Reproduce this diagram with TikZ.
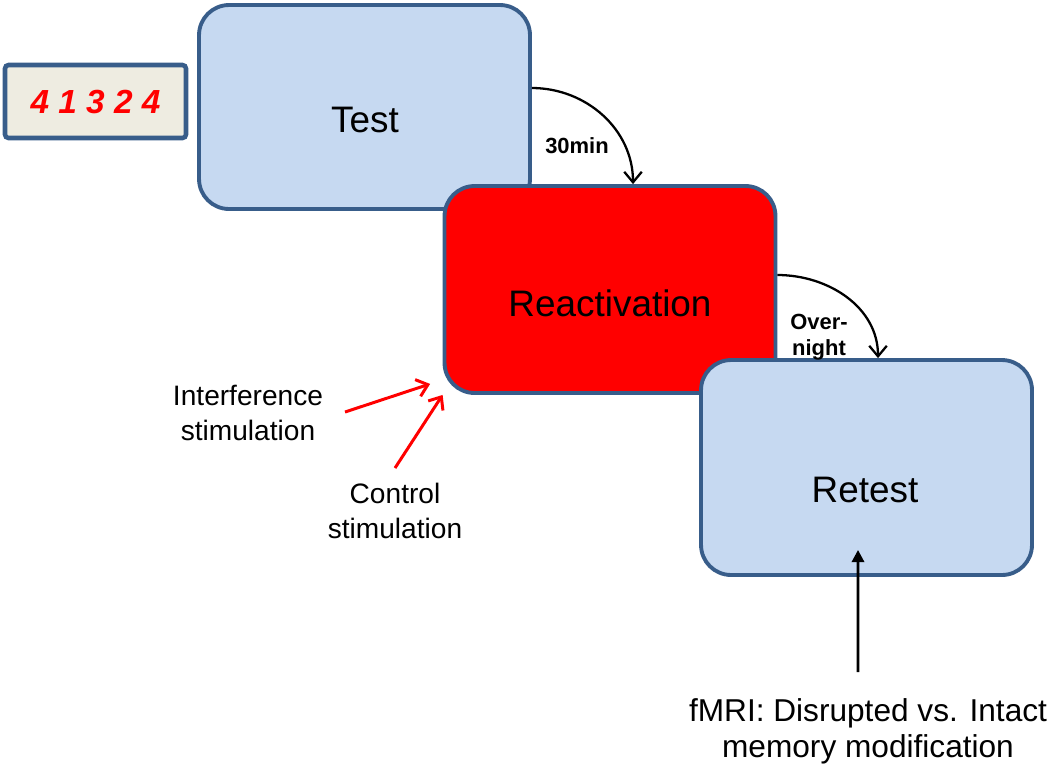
\documentclass[tikz,border=0pt]{standalone}
\usepackage{fontspec}
\setmainfont{Liberation Sans}
\usetikzlibrary{arrows.meta}

\definecolor{boxblue}{RGB}{198,217,241}
\definecolor{edgeblue}{RGB}{56,93,138}
\definecolor{paper}{RGB}{238,236,225}

\begin{document}
\begin{tikzpicture}[x=0.02cm, y=-0.02cm]
\tikzset{ >={Straight Barb[length=6pt,width=10pt]}, inner sep=0pt,
  stage/.style={draw=edgeblue, line width=2.2pt, rounded corners=0.6cm, minimum width=6.62cm},
  big/.style={font=\fontsize{21}{25}\selectfont},
  lbl/.style={align=center, font=\fontsize{16}{19.5}\selectfont},
  delay/.style={align=center, font=\bfseries\fontsize{12.5}{15}\selectfont},
  stim/.style={->, red, line width=1.7pt, >={Straight Barb[length=6pt,width=10pt]}},
}

\useasboundingbox (0,0) rectangle (1050,769);

%\draw [lightgray, dashed](0,0) grid[step=50] (1050,769);

\node [stage, fill=boxblue, minimum height=4.08cm] (T)  at (364.5,107)   {};
\node [stage, fill=red,     minimum height=4.14cm] (R)  at (610,289.5)   {};
\node [stage, fill=boxblue, minimum height=4.3cm]  (Rt) at (866.5,467.5) {};

\node [draw=edgeblue, fill=paper, line width=2.6pt, rounded corners=2pt,
       minimum width=3.62cm, minimum height=1.46cm,
       font=\bfseries\itshape\fontsize{19}{22}\selectfont, text=red] (N) at (95.5,101.5) {4 1 3 2 4};

\node [big] (Tl)  at (365,120) {Test};
\node [big] (Rl)  at (610,303) {Reactivation};
\node [big] (Rtl) at (865,490) {Retest};

\node [delay] (d1) at (577,146) {30min};
\node [delay] (d2) at (819,337) {Over-\\night};

\draw [->, line width=1.3pt] ([yshift=0.38cm]T.east) to[out=0, in=90] ([xshift=0.46cm]R.north);
\draw [->, line width=1.3pt] ([yshift=0.29cm]R.east) to[out=0, in=90] ([xshift=0.23cm]Rt.north);

\node [lbl] (intf) at (248,413) {Interference\\stimulation};
\node [lbl] (ctrl) at (395,511) {Control\\stimulation};
\node [lbl, font=\fontsize{18}{20.5}\selectfont] (fmri) at (868,731) {fMRI: Disrupted vs. Intact\\memory modification};

\coordinate (ifree) at (345,412);
\coordinate (cfree) at (395,468);
\coordinate (mfree) at (858,672);

\draw [stim] (ifree) -- ([xshift=-0.25cm, yshift=0.22cm]R.south west);
\draw [stim] (cfree) -- (R.south west);

\draw [-{Triangle[length=7pt,width=7pt]}, line width=1.6pt] (mfree) -- ([xshift=-0.17cm, yshift=0.54cm]Rt.south);

\end{tikzpicture}
\end{document}
